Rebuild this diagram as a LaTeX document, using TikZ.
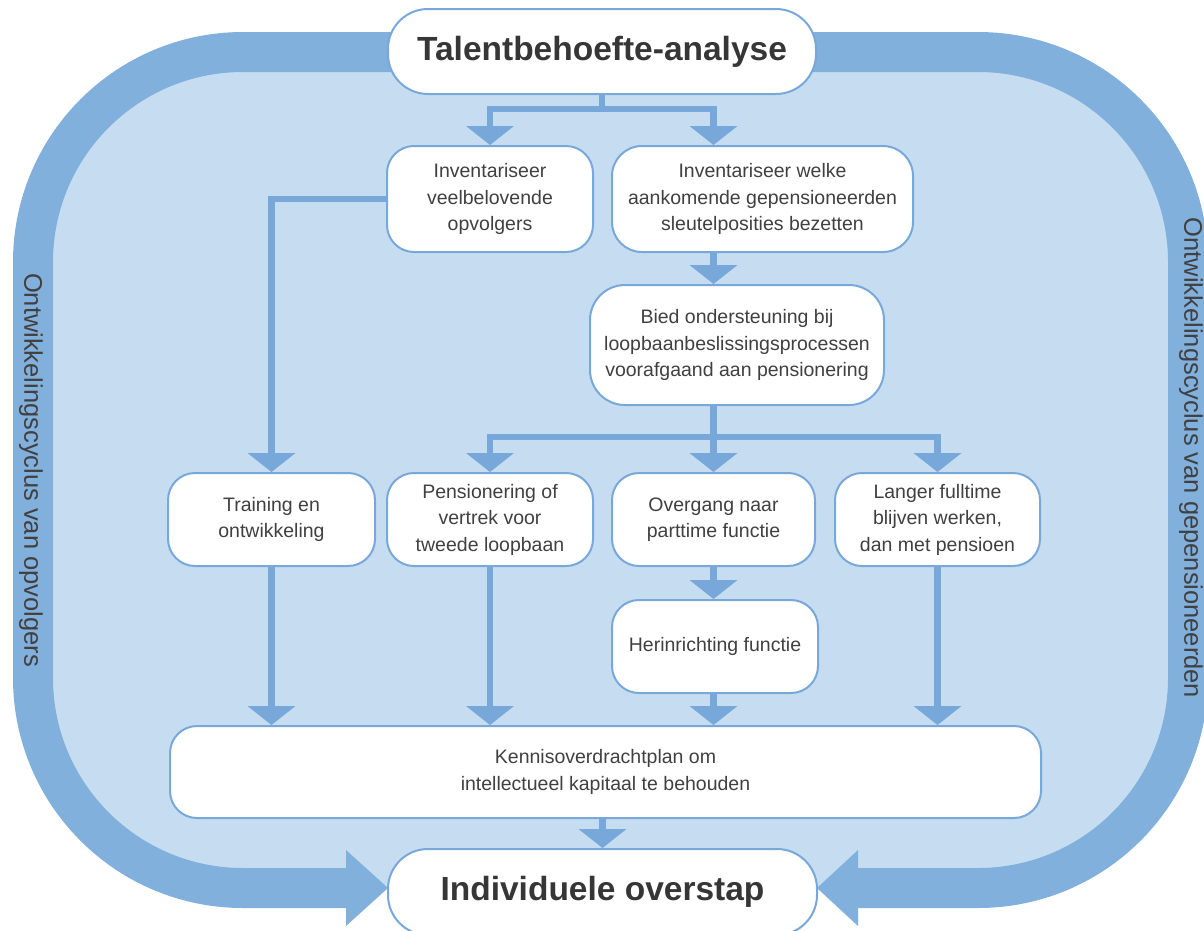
\documentclass[tikz,border=0pt]{standalone}
\usepackage{fontspec}
\setmainfont{Liberation Sans}
\usetikzlibrary{arrows.meta}
\definecolor{bandc}{HTML}{82B0DC}
\definecolor{lightc}{HTML}{C6DDF1}
\definecolor{linec}{HTML}{78A8DA}
\definecolor{txtc}{HTML}{404040}
\tikzset{
  box/.style={draw=linec, line width=2pt, fill=white, rounded corners=27pt, align=center,
    text=txtc, inner sep=0pt, font=\fontsize{19.5}{26.5}\selectfont},
  bigbox/.style={box, rounded corners=40pt, font=\fontsize{33.5}{40}\selectfont\bfseries, text=txtc!85!black},
  conn/.style={draw=linec, line width=6.5pt},
  arr/.style={conn, -{Triangle[width=48pt,length=19pt,line width=0pt]}},
  arrboth/.style={conn, {Triangle[width=48pt,length=19pt,line width=0pt]}-{Triangle[width=48pt,length=19pt,line width=0pt]}},
  sidetext/.style={rotate=-90, text=txtc, font=\fontsize{25.5}{30}\selectfont, inner sep=0pt}
}
\begin{document}
\begin{tikzpicture}[x=1pt,y=-1pt]
\useasboundingbox (0,0) rectangle (1204,930);
% background and cycle band
\fill[lightc, rounded corners=210pt] (33,52) rectangle (1188,888);
\draw[bandc, line width=40pt, rounded corners=210pt] (346,888) -- (33,888) -- (33,52) -- (1188,52) -- (1188,888) -- (858,888);
\fill[bandc] (346,850) -- (388,888) -- (346,926) -- cycle;
\fill[bandc] (858,850) -- (817,888) -- (858,926) -- cycle;
\node[sidetext] (lside) at (31,470) {Ontwikkelingscyclus van opvolgers};
\node[sidetext] (rside) at (1191,458) {Ontwikkelingscyclus van gepensioneerden};
% nodes
\node[bigbox, minimum width=428pt, minimum height=85pt] (talent) at (602,51.5) {Talentbehoefte-analyse};
\node[box, minimum width=206pt, minimum height=106pt] (ivl) at (490,199) {Inventariseer\\veelbelovende\\opvolgers};
\node[box, minimum width=301pt, minimum height=106pt, rounded corners=30pt] (iw) at (762.5,199) {Inventariseer welke\\aankomende gepensioneerden\\sleutelposities bezetten};
\node[box, minimum width=294pt, minimum height=120pt, rounded corners=35pt] (bied) at (737,345) {Bied ondersteuning bij\\loopbaanbeslissingsprocessen\\voorafgaand aan pensionering};
\node[box, minimum width=207pt, minimum height=93pt] (train) at (271.5,519.5) {Training en\\ontwikkeling};
\node[box, minimum width=206pt, minimum height=93pt] (pens) at (490,519.5) {Pensionering of\\vertrek voor\\tweede loopbaan};
\node[box, minimum width=203pt, minimum height=93pt] (over) at (713.5,519.5) {Overgang naar\\parttime functie};
\node[box, minimum width=205pt, minimum height=93pt] (lang) at (937.5,519.5) {Langer fulltime\\blijven werken,\\dan met pensioen};
\node[box, minimum width=206pt, minimum height=93pt] (herin) at (715,646.5) {Herinrichting functie};
\node[box, minimum width=871pt, minimum height=92pt] (kenn) at (605.5,772) {Kennisoverdrachtplan om\\intellectueel kapitaal te behouden};
\node[bigbox, minimum width=429pt, minimum height=86pt] (indiv) at (602.5,892) {Individuele overstap};
% connectors
\coordinate (t1) at (602,109);
\coordinate (b1) at (713.5,437);
\draw[conn] (talent.south) -- (t1);
\draw[arrboth] (ivl.north) |- (over.north |- t1) -- (over.north |- iw.north);
\draw[arr] (ivl.west) -| (train.north);
\draw[arr] (over.north |- iw.south) -- (over.north |- bied.north);
\draw[conn] (over.north |- bied.south) -- (b1);
\draw[arrboth] (pens.north) |- (lang.north |- b1) -- (lang.north);
\draw[arr] (b1) -- (over.north);
\draw[arr] (train.south) -- (train.south |- kenn.north);
\draw[arr] (pens.south) -- (pens.south |- kenn.north);
\draw[arr] (over.south) -- (over.south |- herin.north);
\draw[arr] (over.south |- herin.south) -- (over.south |- kenn.north);
\draw[arr] (lang.south) -- (lang.south |- kenn.north);
\draw[arr] (kenn.south -| indiv.north) -- (indiv.north);
\end{tikzpicture}
\end{document}
